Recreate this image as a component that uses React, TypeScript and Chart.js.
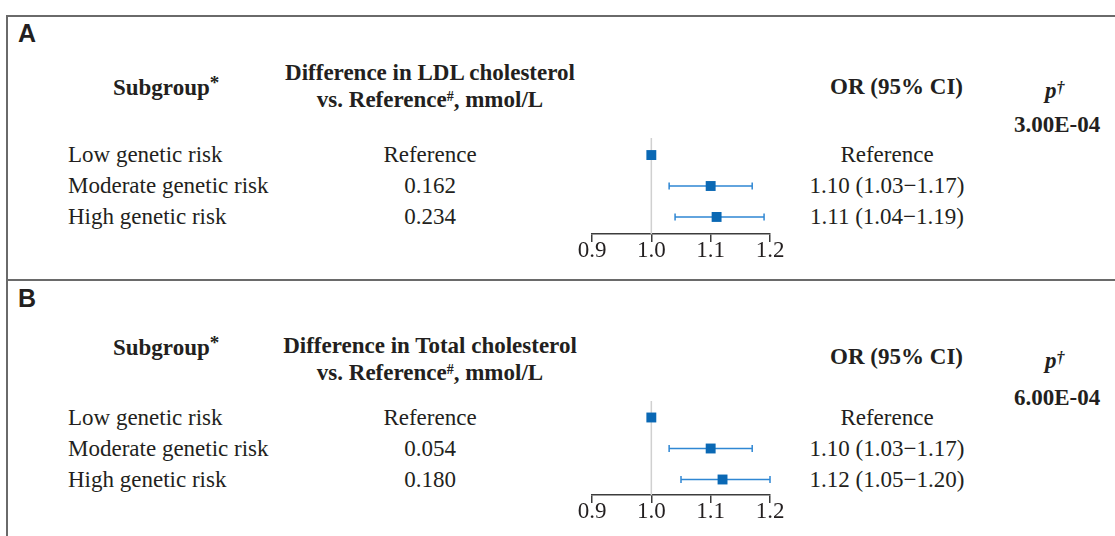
import React, { useEffect, useRef } from "react";
import { Chart, registerables } from "chart.js";

Chart.register(...registerables);

// ---------- data ----------
const subgroups = ["Low genetic risk", "Moderate genetic risk", "High genetic risk"];
const xTicks = [0.9, 1.0, 1.1, 1.2];

const ldlDiff = ["Reference", "0.162", "0.234"];
const ldlOR = [1.0, 1.1, 1.11];
const ldlLower: (number | null)[] = [null, 1.03, 1.04];
const ldlUpper: (number | null)[] = [null, 1.17, 1.19];
const ldlORText = ["Reference", "1.10 (1.03\u22121.17)", "1.11 (1.04\u22121.19)"];
const ldlP = "3.00E-04";

const tcDiff = ["Reference", "0.054", "0.180"];
const tcOR = [1.0, 1.1, 1.12];
const tcLower: (number | null)[] = [null, 1.03, 1.05];
const tcUpper: (number | null)[] = [null, 1.17, 1.2];
const tcORText = ["Reference", "1.10 (1.03\u22121.17)", "1.12 (1.05\u22121.20)"];
const tcP = "6.00E-04";

// ---------- styles ----------
const SERIF = "'Liberation Serif', 'Times New Roman', serif";
const SANS = "'Liberation Sans', Arial, sans-serif";
const TEXT = "#231f20";
const MARK = "#0a68b4";
const BAR = "#2f87d3";
const AXIS = "#3c3c3c";
const FRAME = "#6a6a6a";
const REFLINE = "#d0d0d0";
const FS = 23;

type TProps = {
  x: number;
  y: number;
  align?: "left" | "center" | "right";
  size?: number;
  bold?: boolean;
  italic?: boolean;
  sans?: boolean;
  children?: React.ReactNode;
};

function T({ x, y, align = "left", size = FS, bold = false, italic = false, sans = false, children }: TProps) {
  const asc = sans ? 0.8465 : 0.8375;
  const style: React.CSSProperties = {
    position: "absolute",
    top: y - asc * size,
    whiteSpace: "nowrap",
    fontSize: size,
    lineHeight: size + "px",
    fontFamily: sans ? SANS : SERIF,
    fontWeight: bold ? 700 : 400,
    fontStyle: italic ? "italic" : "normal",
    color: TEXT,
  };
  if (align === "left") style.left = x;
  else if (align === "center") {
    style.left = x - 300;
    style.width = 600;
    style.textAlign = "center";
  } else {
    style.left = x - 600;
    style.width = 600;
    style.textAlign = "right";
  }
  return <div style={style}>{children}</div>;
}

function Sup({ size, raise, children }: { size: number; raise: number; children: React.ReactNode }) {
  return (
    <span style={{ position: "relative", top: -raise, fontSize: size, lineHeight: 0 }}>{children}</span>
  );
}

type ForestProps = {
  or: number[];
  lower: (number | null)[];
  upper: (number | null)[];
  left: number;
  top: number;
  width: number;
  height: number;
  padLeft: number;
  padTop: number;
  yMin: number;
  yMax: number;
};

function Forest({ or, lower, upper, left, top, width, height, padLeft, padTop, yMin, yMax }: ForestProps) {
  const ref = useRef<HTMLCanvasElement>(null);
  useEffect(() => {
    if (!ref.current) return;
    const errorBars = {
      id: "errorBars",
      beforeDatasetsDraw(chart: any) {
        const { ctx, chartArea } = chart;
        const x = chart.scales.x;
        const y = chart.scales.y;
        ctx.save();
        const rx = x.getPixelForValue(1.0);
        ctx.strokeStyle = REFLINE;
        ctx.lineWidth = 1.5;
        ctx.beginPath();
        ctx.moveTo(rx, chartArea.top);
        ctx.lineTo(rx, chartArea.bottom);
        ctx.stroke();
        ctx.strokeStyle = BAR;
        ctx.lineWidth = 1.5;
        or.forEach((_, i) => {
          const lo = lower[i];
          const hi = upper[i];
          if (lo == null || hi == null) return;
          const py = y.getPixelForValue(i + 1);
          const x1 = x.getPixelForValue(lo);
          const x2 = x.getPixelForValue(hi);
          ctx.beginPath();
          ctx.moveTo(x1, py);
          ctx.lineTo(x2, py);
          ctx.moveTo(x1, py - 3.5);
          ctx.lineTo(x1, py + 3.5);
          ctx.moveTo(x2, py - 3.5);
          ctx.lineTo(x2, py + 3.5);
          ctx.stroke();
        });
        ctx.restore();
      },
    };
    const chart = new Chart(ref.current, {
      type: "scatter",
      data: {
        datasets: [
          {
            data: or.map((v, i) => ({ x: v, y: i + 1 })),
            pointStyle: "rect",
            pointRadius: 7,
            pointHoverRadius: 7,
            backgroundColor: MARK,
            borderColor: MARK,
            borderWidth: 0,
          },
        ],
      },
      options: {
        animation: false,
        responsive: false,
        events: [],
        layout: { padding: { left: padLeft, top: padTop, right: width - padLeft - 178, bottom: 0 } },
        plugins: { legend: { display: false }, tooltip: { enabled: false } },
        scales: {
          x: {
            type: "linear",
            min: 0.9,
            max: 1.2,
            afterBuildTicks: (axis: any) => {
              axis.ticks = xTicks.map((v) => ({ value: v }));
            },
            ticks: {
              callback: (v: any) => Number(v).toFixed(1),
              font: { family: SERIF, size: FS, lineHeight: "18px" },
              color: TEXT,
              padding: 0,
              maxRotation: 0,
              autoSkip: false,
            },
            grid: {
              drawOnChartArea: false,
              drawTicks: true,
              tickLength: 8,
              color: AXIS,
              lineWidth: 1.5,
            },
            border: { display: true, color: AXIS, width: 1.5 },
          },
          y: {
            type: "linear",
            display: false,
            reverse: true,
            min: yMin,
            max: yMax,
          },
        },
      },
      plugins: [errorBars],
    } as any);
    return () => chart.destroy();
  }, []);
  return (
    <canvas
      ref={ref}
      width={width}
      height={height}
      style={{ position: "absolute", left, top, width, height }}
    />
  );
}

type PanelProps = {
  label: string;
  labelY: number;
  measure: string;
  subY: number;
  diffY1: number;
  diffY2: number;
  orY: number;
  pY: number;
  pvY: number;
  pv: string;
  rowYs: number[];
  diff: string[];
  orText: string[];
  or: number[];
  lower: (number | null)[];
  upper: (number | null)[];
  chartTop: number;
  chartHeight: number;
  yMin: number;
  yMax: number;
};

function Panel(p: PanelProps) {
  return (
    <>
      <T x={18} y={p.labelY} size={25} bold sans>
        {p.label}
      </T>
      <T x={113} y={p.subY} bold>
        Subgroup
        <Sup size={19} raise={6}>
          *
        </Sup>
      </T>
      <T x={430} y={p.diffY1} align="center" bold>
        {"Difference in " + p.measure + " cholesterol"}
      </T>
      <T x={430} y={p.diffY2} align="center" bold>
        vs. Reference
        <Sup size={14} raise={6}>
          #
        </Sup>
        , mmol/L
      </T>
      <T x={963} y={p.orY} align="right" bold>
        OR (95% CI)
      </T>
      <T x={1045} y={p.pY} bold italic>
        p
        <Sup size={16} raise={5}>
          {"\u2020"}
        </Sup>
      </T>
      <T x={1057} y={p.pvY} align="center" bold>
        {p.pv}
      </T>
      {subgroups.map((s, i) => (
        <T key={"s" + i} x={68} y={p.rowYs[i] + 7.4}>
          {s}
        </T>
      ))}
      {p.diff.map((s, i) => (
        <T key={"d" + i} x={430} y={p.rowYs[i] + 7.4} align="center">
          {s}
        </T>
      ))}
      {p.orText.map((s, i) => (
        <T key={"o" + i} x={887} y={p.rowYs[i] + 7.4} align="center">
          {s}
        </T>
      ))}
      <Forest
        or={p.or}
        lower={p.lower}
        upper={p.upper}
        left={560}
        top={p.chartTop}
        width={240}
        height={p.chartHeight}
        padLeft={32}
        padTop={18}
        yMin={p.yMin}
        yMax={p.yMax}
      />
    </>
  );
}

export default function App() {
  return (
    <div
      style={{
        position: "absolute",
        left: 0,
        top: 0,
        width: 1115,
        height: 536,
        overflow: "hidden",
        background: "#ffffff",
      }}
    >
      <div style={{ position: "absolute", left: 6, top: 15, width: 1109, height: 2, background: FRAME }} />
      <div style={{ position: "absolute", left: 6, top: 15, width: 2, height: 521, background: FRAME }} />
      <div style={{ position: "absolute", left: 6, top: 279, width: 1109, height: 2, background: FRAME }} />
      <Panel
        label="A"
        labelY={42.5}
        measure="LDL"
        subY={95}
        diffY1={80}
        diffY2={107.3}
        orY={94.3}
        pY={98.3}
        pvY={132.3}
        pv={ldlP}
        rowYs={[155, 186, 217]}
        diff={ldlDiff}
        orText={ldlORText}
        or={ldlOR}
        lower={ldlLower}
        upper={ldlUpper}
        chartTop={120}
        chartHeight={140}
        yMin={0.45}
        yMax={3.55}
      />
      <Panel
        label="B"
        labelY={307}
        measure="Total"
        subY={355}
        diffY1={353}
        diffY2={380}
        orY={364.3}
        pY={368.3}
        pvY={405.6}
        pv={tcP}
        rowYs={[417.5, 448.5, 479.5]}
        diff={tcDiff}
        orText={tcORText}
        or={tcOR}
        lower={tcLower}
        upper={tcUpper}
        chartTop={383}
        chartHeight={138}
        yMin={0.468}
        yMax={3.5}
      />
    </div>
  );
}
